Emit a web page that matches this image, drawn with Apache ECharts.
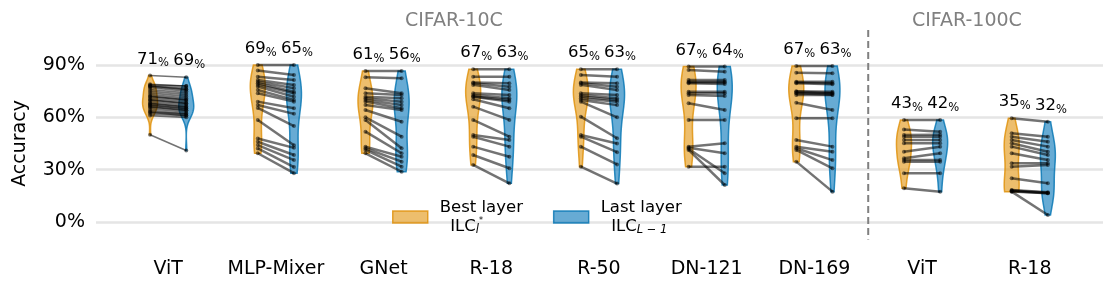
<!DOCTYPE html>
<html><head><meta charset="utf-8">
<script src="https://cdn.jsdelivr.net/npm/echarts@6/dist/echarts.min.js"></script>
<style>html,body{margin:0;padding:0;background:#fff}#c{width:1113px;height:292px}</style>
</head><body><div id="c"></div>
<script>
// ---------------- data ----------------
const categories = ['ViT','MLP-Mixer','GNet','R-18','R-50','DN-121','DN-169','ViT','R-18'];
const yTicks = [0, 0.3, 0.6, 0.9];
const bestMeanLabels = [71,69,61,67,65,67,67,43,35];
const lastMeanLabels = [69,65,56,63,63,64,63,42,32];
const groupTitles = ['CIFAR-10C','CIFAR-100C'];

const bestViT10  = [0.84,0.79,0.785,0.78,0.78,0.775,0.77,0.76,0.75,0.74,0.73,0.72,0.72,0.71,0.70,0.70,0.69,0.68,0.68,0.67,0.67,0.66,0.66,0.65,0.64,0.63,0.63,0.62,0.61,0.50];
const lastViT10  = [0.83,0.78,0.78,0.77,0.76,0.76,0.75,0.74,0.73,0.72,0.71,0.70,0.70,0.69,0.68,0.68,0.67,0.66,0.66,0.65,0.65,0.64,0.64,0.63,0.62,0.62,0.61,0.61,0.60,0.41];
const bestMLP    = [0.90,0.868,0.833,0.814,0.804,0.795,0.786,0.776,0.757,0.738,0.69,0.671,0.654,0.585,0.479,0.46,0.441,0.422,0.394];
const lastMLP    = [0.90,0.843,0.814,0.786,0.767,0.747,0.738,0.718,0.70,0.69,0.652,0.62,0.55,0.44,0.425,0.384,0.355,0.315,0.28];
const bestGNet   = [0.866,0.830,0.767,0.738,0.718,0.709,0.700,0.690,0.671,0.642,0.600,0.585,0.518,0.432,0.423,0.413,0.394];
const lastGNet   = [0.866,0.824,0.738,0.728,0.709,0.690,0.671,0.652,0.642,0.575,0.489,0.423,0.394,0.374,0.346,0.317,0.288];
const bestR18    = [0.876,0.833,0.80,0.795,0.786,0.738,0.728,0.72,0.718,0.704,0.661,0.585,0.499,0.489,0.432,0.384,0.327];
const lastR18    = [0.876,0.833,0.795,0.776,0.757,0.728,0.709,0.70,0.69,0.652,0.585,0.489,0.47,0.432,0.374,0.308,0.222];
const bestR50    = [0.876,0.843,0.80,0.795,0.786,0.738,0.728,0.72,0.709,0.70,0.69,0.604,0.499,0.489,0.432,0.317];
const lastR50    = [0.876,0.833,0.795,0.776,0.757,0.728,0.709,0.70,0.69,0.67,0.60,0.48,0.45,0.40,0.33,0.22];
const bestDN121  = [0.891,0.872,0.814,0.804,0.80,0.795,0.747,0.738,0.728,0.681,0.585,0.432,0.425,0.42,0.413,0.317];
const lastDN121  = [0.891,0.862,0.814,0.804,0.80,0.791,0.747,0.738,0.722,0.642,0.585,0.451,0.394,0.279,0.212,0.317];
const bestDN169  = [0.894,0.856,0.804,0.80,0.795,0.75,0.747,0.74,0.738,0.728,0.684,0.595,0.47,0.432,0.423,0.413,0.346];
const lastDN169  = [0.894,0.852,0.804,0.795,0.79,0.747,0.74,0.738,0.73,0.728,0.642,0.595,0.432,0.403,0.355,0.308,0.174];
const bestViT100 = [0.585,0.53,0.499,0.489,0.47,0.451,0.403,0.365,0.355,0.346,0.279,0.193];
const lastViT100 = [0.585,0.518,0.50,0.489,0.47,0.451,0.432,0.394,0.355,0.346,0.279,0.174];
const bestR18c100 = [0.595,0.509,0.489,0.47,0.451,0.432,0.394,0.337,0.317,0.251,0.183,0.18,0.177,0.175,0.174];
const lastR18c100 = [0.575,0.489,0.46,0.432,0.403,0.384,0.355,0.337,0.327,0.222,0.17,0.168,0.165,0.165,0.04];

const bestAll = [bestViT10,bestMLP,bestGNet,bestR18,bestR50,bestDN121,bestDN169,bestViT100,bestR18c100];
const lastAll = [lastViT10,lastMLP,lastGNet,lastR18,lastR50,lastDN121,lastDN169,lastViT100,lastR18c100];
const separatorAt = 6.5;

// ---------------- helpers ----------------
const FONT = 'DejaVu Sans';
const OFF = 0.168;     // half distance between paired violins (x units)
const HW = 7.5;        // max half width of a violin (px)
const ORANGE_FILL = 'rgba(226,150,20,0.62)', ORANGE_EDGE = 'rgba(222,143,5,0.8)';
const BLUE_FILL = 'rgba(10,120,185,0.62)', BLUE_EDGE = 'rgba(1,115,178,0.8)';

function kde(vals, n) {
  const m = vals.length;
  const mean = vals.reduce((a,b)=>a+b,0)/m;
  const sd = Math.sqrt(vals.reduce((a,b)=>a+(b-mean)*(b-mean),0)/(m-1));
  const bw = sd * Math.pow(m, -1/5);
  const lo = Math.min(...vals), hi = Math.max(...vals);
  const out = [];
  for (let k=0;k<=n;k++){
    const y = lo + (hi-lo)*k/n; let d = 0;
    for (const v of vals) d += Math.exp(-0.5*((y-v)/bw)*((y-v)/bw));
    out.push([y,d]);
  }
  const mx = Math.max(...out.map(p=>p[1]));
  return out.map(p=>[p[0], p[1]/mx]);
}
const kdes = [bestAll.map(v=>kde(v,120)), lastAll.map(v=>kde(v,120))];

function violinRenderer(side) {
  return function(params, api) {
    const i = api.value(0);
    const off = side === 0 ? -OFF : OFF;
    const left = [], right = [];
    kdes[side][i].forEach(([y,d]) => {
      const p = api.coord([i+off, y]);
      left.push([p[0]-d*HW, p[1]]);
      right.push([p[0]+d*HW, p[1]]);
    });
    return {type:'polygon', shape:{points: left.concat(right.reverse())},
      style:{fill: side===0?ORANGE_FILL:BLUE_FILL, stroke: side===0?ORANGE_EDGE:BLUE_EDGE, lineWidth:1.5}};
  };
}

const groupIdx = categories.map((_, i) => [i]);

const option = {
  animation:false,
  grid:{left:96, right:10, top:65, bottom:70},
  xAxis:{type:'value', min:-0.67, max:8.68,
    splitLine:{show:false}, axisLine:{show:false}, axisTick:{show:false},
    axisLabel:{customValues: categories.map((_,i)=>i), formatter: v => categories[Math.round(v)],
      fontFamily:FONT, fontSize:19, color:'#000', margin:38}},
  yAxis:{type:'value', min:0, max:0.9, interval:0.3,
    name:'Accuracy', nameLocation:'middle', nameGap:66, nameRotate:90,
    nameTextStyle:{fontFamily:FONT, fontSize:19, color:'#000'},
    axisLine:{show:false}, axisTick:{show:false},
    axisLabel:{fontFamily:FONT, fontSize:19, color:'#000', margin:11,
      formatter: v => Math.round(v*100)+'%'},
    splitLine:{lineStyle:{color:'#e5e5e5', width:2.5}}},
  legend:{left:392, top:199, padding:0, itemWidth:35, itemHeight:12, itemGap:30,
    data:[
      {name:'Best layer', icon:'rect', itemStyle:{color:ORANGE_FILL, borderColor:ORANGE_EDGE, borderWidth:1.5}},
      {name:'Last layer', icon:'rect', itemStyle:{color:BLUE_FILL, borderColor:BLUE_EDGE, borderWidth:1.5}}
    ],
    formatter: name => name === 'Best layer'
      ? '{a|Best layer}\n{a|  ILC}{s|l}{ss|*}'
      : '{a|Last layer}\n{a|  ILC}{s|L − 1}',
    textStyle:{fontFamily:FONT, color:'#000',
      rich:{
        a:{fontFamily:FONT, fontSize:16.5, lineHeight:19, padding:[0,0,0,7]},
        s:{fontFamily:FONT, fontSize:11.5, fontStyle:'italic', lineHeight:12, verticalAlign:'bottom'},
        ss:{fontFamily:FONT, fontSize:8, lineHeight:18, verticalAlign:'top'}
      }}},
  graphic:[
    {type:'text', left:405, top:12, style:{text:groupTitles[0], font:'19px "DejaVu Sans"', fill:'#808080'}},
    {type:'text', left:912, top:12, style:{text:groupTitles[1], font:'19px "DejaVu Sans"', fill:'#808080'}}
  ],
  series:[
    {type:'custom', name:'Best layer', data:groupIdx, renderItem:violinRenderer(0),
      itemStyle:{color:ORANGE_FILL}, silent:true},
    {type:'custom', name:'Last layer', data:groupIdx, renderItem:violinRenderer(1),
      itemStyle:{color:BLUE_FILL}, silent:true},
    {type:'custom', name:'pairs', data:groupIdx, silent:true,
      renderItem:(params, api) => {
        const i = api.value(0);
        const b = bestAll[i], l = lastAll[i];
        const lw = b.length > 25 ? 1.6 : 2.5;
        const children = [];
        for (let k=0;k<b.length;k++){
          const p1 = api.coord([i-OFF, b[k]]), p2 = api.coord([i+OFF, l[k]]);
          children.push({type:'line', shape:{x1:p1[0],y1:p1[1],x2:p2[0],y2:p2[1]},
            style:{stroke:'rgba(0,0,0,0.55)', lineWidth:lw}});
        }
        for (let k=0;k<b.length;k++){
          const p1 = api.coord([i-OFF, b[k]]), p2 = api.coord([i+OFF, l[k]]);
          children.push({type:'circle', shape:{cx:p1[0],cy:p1[1],r:2}, style:{fill:'rgba(0,0,0,0.5)'}});
          children.push({type:'circle', shape:{cx:p2[0],cy:p2[1],r:2}, style:{fill:'rgba(0,0,0,0.5)'}});
        }
        return {type:'group', children};
      }},
    {type:'custom', name:'means', data:groupIdx, silent:true,
      renderItem:(params, api) => {
        const i = api.value(0);
        const pb = api.coord([i-OFF, Math.max(...bestAll[i])]);
        const pl = api.coord([i+OFF, Math.max(...lastAll[i])]);
        const rich = {n:{fontFamily:FONT, fontSize:16.5, lineHeight:20, fill:'#000'},
                      p:{fontFamily:FONT, fontSize:11.5, lineHeight:14, verticalAlign:'bottom', fill:'#000'}};
        const mk = (p, v) => ({type:'text', x:p[0]+3, y:p[1]-6,
          style:{text:'{n|'+v+'}{p|%}', rich, align:'center', verticalAlign:'bottom'}});
        return {type:'group', children:[mk(pb, bestMeanLabels[i]), mk(pl, lastMeanLabels[i])]};
      }},
    {type:'custom', name:'separator', data:[[separatorAt]], silent:true,
      renderItem:(params, api) => {
        const a = api.coord([api.value(0), 1.1]), b = api.coord([api.value(0), -0.1]);
        return {type:'line', shape:{x1:a[0],y1:a[1],x2:b[0],y2:b[1]},
          style:{stroke:'#808080', lineWidth:2, lineDash:[7,4]}};
      }}
  ]
};
const chart = echarts.init(document.getElementById('c'), null, {renderer:'canvas'});
chart.setOption(option);
</script></body></html>
